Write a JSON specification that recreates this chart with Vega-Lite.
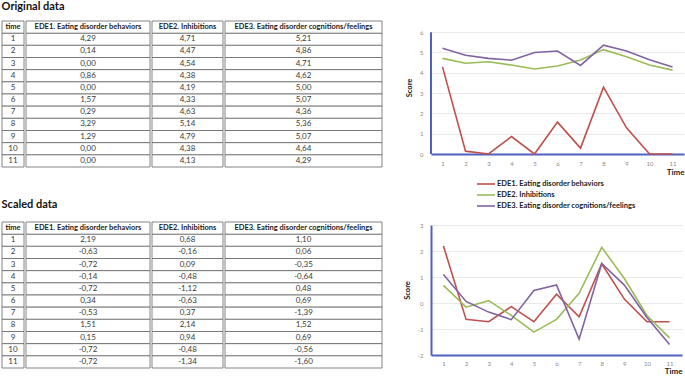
{
  "$schema": "https://vega.github.io/schema/vega-lite/v6.json",
  "padding": {"left": 1, "top": 0, "right": 2, "bottom": 0},
  "background": "#ffffff",
  "datasets": {
    "orig": [
      {"time": 1, "EDE1": 4.29, "EDE2": 4.71, "EDE3": 5.21},
      {"time": 2, "EDE1": 0.14, "EDE2": 4.47, "EDE3": 4.86},
      {"time": 3, "EDE1": 0.00, "EDE2": 4.54, "EDE3": 4.71},
      {"time": 4, "EDE1": 0.86, "EDE2": 4.38, "EDE3": 4.62},
      {"time": 5, "EDE1": 0.00, "EDE2": 4.19, "EDE3": 5.00},
      {"time": 6, "EDE1": 1.57, "EDE2": 4.33, "EDE3": 5.07},
      {"time": 7, "EDE1": 0.29, "EDE2": 4.63, "EDE3": 4.36},
      {"time": 8, "EDE1": 3.29, "EDE2": 5.14, "EDE3": 5.36},
      {"time": 9, "EDE1": 1.29, "EDE2": 4.79, "EDE3": 5.07},
      {"time": 10, "EDE1": 0.00, "EDE2": 4.38, "EDE3": 4.64},
      {"time": 11, "EDE1": 0.00, "EDE2": 4.13, "EDE3": 4.29}
    ],
    "scaled": [
      {"time": 1, "EDE1": 2.19, "EDE2": 0.68, "EDE3": 1.10},
      {"time": 2, "EDE1": -0.63, "EDE2": -0.16, "EDE3": 0.06},
      {"time": 3, "EDE1": -0.72, "EDE2": 0.09, "EDE3": -0.35},
      {"time": 4, "EDE1": -0.14, "EDE2": -0.48, "EDE3": -0.64},
      {"time": 5, "EDE1": -0.72, "EDE2": -1.12, "EDE3": 0.48},
      {"time": 6, "EDE1": 0.34, "EDE2": -0.63, "EDE3": 0.69},
      {"time": 7, "EDE1": -0.53, "EDE2": 0.37, "EDE3": -1.39},
      {"time": 8, "EDE1": 1.51, "EDE2": 2.14, "EDE3": 1.52},
      {"time": 9, "EDE1": 0.15, "EDE2": 0.94, "EDE3": 0.69},
      {"time": 10, "EDE1": -0.72, "EDE2": -0.48, "EDE3": -0.56},
      {"time": 11, "EDE1": -0.72, "EDE2": -1.34, "EDE3": -1.60}
    ]
  },
  "hconcat": [
    {
      "spacing": 30,
      "vconcat": [
        {
          "title": {"text": "Original data", "anchor": "start", "font": "Lato", "fontSize": 11, "fontWeight": "bold", "color": "#111", "offset": 9},
          "spacing": 0,
          "hconcat": [
            {"width": 22, "height": 146, "data": {"name": "orig"}, "layer": [
              {"mark": {"type": "rect", "fill": "#ffffff", "stroke": "#666666", "strokeWidth": 0.8}, "encoding": {"y": {"field": "time", "type": "ordinal", "scale": {"domain": [0,1,2,3,4,5,6,7,8,9,10,11], "paddingInner": 0, "paddingOuter": 0}, "axis": null}}},
              {"mark": {"type": "text", "font": "Lato", "fontSize": 8, "color": "#3a3a3a"}, "encoding": {"y": {"field": "time", "type": "ordinal"}, "text": {"field": "time", "type": "ordinal"}}},
              {"data": {"values": [{}]}, "mark": {"type": "rect", "fill": "#ffffff", "stroke": "#666666", "strokeWidth": 0.8}, "encoding": {"y": {"datum": 0, "type": "ordinal"}}},
              {"data": {"values": [{}]}, "mark": {"type": "text", "font": "Lato", "fontSize": 7.5, "fontWeight": "bold", "color": "#222", "text": "time"}, "encoding": {"y": {"datum": 0, "type": "ordinal"}}}
            ]},
            {"width": 124, "height": 146, "data": {"name": "orig"}, "layer": [
              {"mark": {"type": "rect", "fill": "#ffffff", "stroke": "#666666", "strokeWidth": 0.8}, "encoding": {"y": {"field": "time", "type": "ordinal", "scale": {"domain": [0,1,2,3,4,5,6,7,8,9,10,11], "paddingInner": 0, "paddingOuter": 0}, "axis": null}}},
              {"mark": {"type": "text", "font": "Lato", "fontSize": 8, "color": "#3a3a3a"}, "encoding": {"y": {"field": "time", "type": "ordinal"}, "text": {"field": "EDE1", "type": "quantitative", "format": ".2f"}}},
              {"data": {"values": [{}]}, "mark": {"type": "rect", "fill": "#ffffff", "stroke": "#666666", "strokeWidth": 0.8}, "encoding": {"y": {"datum": 0, "type": "ordinal"}}},
              {"data": {"values": [{}]}, "mark": {"type": "text", "font": "Lato", "fontSize": 7.5, "fontWeight": "bold", "color": "#222", "text": "EDE1. Eating disorder behaviors"}, "encoding": {"y": {"datum": 0, "type": "ordinal"}}}
            ]},
            {"width": 71, "height": 146, "data": {"name": "orig"}, "layer": [
              {"mark": {"type": "rect", "fill": "#ffffff", "stroke": "#666666", "strokeWidth": 0.8}, "encoding": {"y": {"field": "time", "type": "ordinal", "scale": {"domain": [0,1,2,3,4,5,6,7,8,9,10,11], "paddingInner": 0, "paddingOuter": 0}, "axis": null}}},
              {"mark": {"type": "text", "font": "Lato", "fontSize": 8, "color": "#3a3a3a"}, "encoding": {"y": {"field": "time", "type": "ordinal"}, "text": {"field": "EDE2", "type": "quantitative", "format": ".2f"}}},
              {"data": {"values": [{}]}, "mark": {"type": "rect", "fill": "#ffffff", "stroke": "#666666", "strokeWidth": 0.8}, "encoding": {"y": {"datum": 0, "type": "ordinal"}}},
              {"data": {"values": [{}]}, "mark": {"type": "text", "font": "Lato", "fontSize": 7.5, "fontWeight": "bold", "color": "#222", "text": "EDE2. Inhibitions"}, "encoding": {"y": {"datum": 0, "type": "ordinal"}}}
            ]},
            {"width": 157, "height": 146, "data": {"name": "orig"}, "layer": [
              {"mark": {"type": "rect", "fill": "#ffffff", "stroke": "#666666", "strokeWidth": 0.8}, "encoding": {"y": {"field": "time", "type": "ordinal", "scale": {"domain": [0,1,2,3,4,5,6,7,8,9,10,11], "paddingInner": 0, "paddingOuter": 0}, "axis": null}}},
              {"mark": {"type": "text", "font": "Lato", "fontSize": 8, "color": "#3a3a3a"}, "encoding": {"y": {"field": "time", "type": "ordinal"}, "text": {"field": "EDE3", "type": "quantitative", "format": ".2f"}}},
              {"data": {"values": [{}]}, "mark": {"type": "rect", "fill": "#ffffff", "stroke": "#666666", "strokeWidth": 0.8}, "encoding": {"y": {"datum": 0, "type": "ordinal"}}},
              {"data": {"values": [{}]}, "mark": {"type": "text", "font": "Lato", "fontSize": 7.5, "fontWeight": "bold", "color": "#222", "text": "EDE3. Eating disorder cognitions/feelings"}, "encoding": {"y": {"datum": 0, "type": "ordinal"}}}
            ]}
          ]
        },
        {
          "title": {"text": "Scaled data", "anchor": "start", "font": "Lato", "fontSize": 11, "fontWeight": "bold", "color": "#111", "offset": 12},
          "spacing": 0,
          "hconcat": [
            {"width": 22, "height": 146, "data": {"name": "scaled"}, "layer": [
              {"mark": {"type": "rect", "fill": "#ffffff", "stroke": "#666666", "strokeWidth": 0.8}, "encoding": {"y": {"field": "time", "type": "ordinal", "scale": {"domain": [0,1,2,3,4,5,6,7,8,9,10,11], "paddingInner": 0, "paddingOuter": 0}, "axis": null}}},
              {"mark": {"type": "text", "font": "Lato", "fontSize": 8, "color": "#3a3a3a"}, "encoding": {"y": {"field": "time", "type": "ordinal"}, "text": {"field": "time", "type": "ordinal"}}},
              {"data": {"values": [{}]}, "mark": {"type": "rect", "fill": "#ffffff", "stroke": "#666666", "strokeWidth": 0.8}, "encoding": {"y": {"datum": 0, "type": "ordinal"}}},
              {"data": {"values": [{}]}, "mark": {"type": "text", "font": "Lato", "fontSize": 7.5, "fontWeight": "bold", "color": "#222", "text": "time"}, "encoding": {"y": {"datum": 0, "type": "ordinal"}}}
            ]},
            {"width": 124, "height": 146, "data": {"name": "scaled"}, "layer": [
              {"mark": {"type": "rect", "fill": "#ffffff", "stroke": "#666666", "strokeWidth": 0.8}, "encoding": {"y": {"field": "time", "type": "ordinal", "scale": {"domain": [0,1,2,3,4,5,6,7,8,9,10,11], "paddingInner": 0, "paddingOuter": 0}, "axis": null}}},
              {"mark": {"type": "text", "font": "Lato", "fontSize": 8, "color": "#3a3a3a"}, "encoding": {"y": {"field": "time", "type": "ordinal"}, "text": {"field": "EDE1", "type": "quantitative", "format": ".2f"}}},
              {"data": {"values": [{}]}, "mark": {"type": "rect", "fill": "#ffffff", "stroke": "#666666", "strokeWidth": 0.8}, "encoding": {"y": {"datum": 0, "type": "ordinal"}}},
              {"data": {"values": [{}]}, "mark": {"type": "text", "font": "Lato", "fontSize": 7.5, "fontWeight": "bold", "color": "#222", "text": "EDE1. Eating disorder behaviors"}, "encoding": {"y": {"datum": 0, "type": "ordinal"}}}
            ]},
            {"width": 71, "height": 146, "data": {"name": "scaled"}, "layer": [
              {"mark": {"type": "rect", "fill": "#ffffff", "stroke": "#666666", "strokeWidth": 0.8}, "encoding": {"y": {"field": "time", "type": "ordinal", "scale": {"domain": [0,1,2,3,4,5,6,7,8,9,10,11], "paddingInner": 0, "paddingOuter": 0}, "axis": null}}},
              {"mark": {"type": "text", "font": "Lato", "fontSize": 8, "color": "#3a3a3a"}, "encoding": {"y": {"field": "time", "type": "ordinal"}, "text": {"field": "EDE2", "type": "quantitative", "format": ".2f"}}},
              {"data": {"values": [{}]}, "mark": {"type": "rect", "fill": "#ffffff", "stroke": "#666666", "strokeWidth": 0.8}, "encoding": {"y": {"datum": 0, "type": "ordinal"}}},
              {"data": {"values": [{}]}, "mark": {"type": "text", "font": "Lato", "fontSize": 7.5, "fontWeight": "bold", "color": "#222", "text": "EDE2. Inhibitions"}, "encoding": {"y": {"datum": 0, "type": "ordinal"}}}
            ]},
            {"width": 157, "height": 146, "data": {"name": "scaled"}, "layer": [
              {"mark": {"type": "rect", "fill": "#ffffff", "stroke": "#666666", "strokeWidth": 0.8}, "encoding": {"y": {"field": "time", "type": "ordinal", "scale": {"domain": [0,1,2,3,4,5,6,7,8,9,10,11], "paddingInner": 0, "paddingOuter": 0}, "axis": null}}},
              {"mark": {"type": "text", "font": "Lato", "fontSize": 8, "color": "#3a3a3a"}, "encoding": {"y": {"field": "time", "type": "ordinal"}, "text": {"field": "EDE3", "type": "quantitative", "format": ".2f"}}},
              {"data": {"values": [{}]}, "mark": {"type": "rect", "fill": "#ffffff", "stroke": "#666666", "strokeWidth": 0.8}, "encoding": {"y": {"datum": 0, "type": "ordinal"}}},
              {"data": {"values": [{}]}, "mark": {"type": "text", "font": "Lato", "fontSize": 7.5, "fontWeight": "bold", "color": "#222", "text": "EDE3. Eating disorder cognitions/feelings"}, "encoding": {"y": {"datum": 0, "type": "ordinal"}}}
            ]}
          ]
        }
      ]
    },
    {
      "spacing": 12,
      "resolve": {"legend": {"color": "independent"}},
      "vconcat": [
        {
          "width": 253, "height": 133,
          "layer": [
            {
              "data": {"name": "orig"},
              "transform": [{"fold": ["EDE1", "EDE2", "EDE3"], "as": ["series", "score"]}],
              "mark": {"type": "line", "strokeWidth": 1.6},
              "encoding": {
                "x": {"field": "time", "type": "quantitative", "scale": {"domain": [0.5, 11.5], "nice": false, "zero": false}, "axis": {"values": [1,2,3,4,5,6,7,8,9,10,11], "format": "d", "labelOverlap": false, "labelFlush": false, "labelAngle": 0, "grid": false, "title": "Time", "titleAnchor": "end", "titleFontSize": 8, "labelPadding": 6, "titlePadding": 2}},
                "y": {"field": "score", "type": "quantitative", "scale": {"domain": [0, 6.55], "nice": false, "zero": false}, "axis": {"values": [0, 1, 2, 3, 4, 5, 6], "format": "d", "labelOverlap": false, "labelFlush": false, "domain": false, "title": "Score", "labelPadding": 8, "titlePadding": 6}},
                "color": {"field": "series", "type": "nominal", "scale": {"domain": ["EDE1", "EDE2", "EDE3"], "range": ["#c0504d", "#9bbb59", "#8064a2"]},
                  "legend": {"title": null, "orient": "bottom", "direction": "vertical", "offset": 1, "symbolType": "M-1.5,0H1.5", "symbolSize": 144, "symbolStrokeWidth": 1.6, "labelFont": "Lato", "labelFontSize": 7.5, "labelFontWeight": "bold", "labelColor": "#222", "rowPadding": 0,
                    "labelExpr": "datum.label == 'EDE1' ? 'EDE1. Eating disorder behaviors' : datum.label == 'EDE2' ? 'EDE2. Inhibitions' : 'EDE3. Eating disorder cognitions/feelings'"}}
              }
            },
            {
              "data": {"values": [{}]},
              "mark": {"type": "rule", "color": "#5060c0", "strokeWidth": 2},
              "encoding": {
                "x": {"datum": 0.5, "type": "quantitative", "axis": {"values": [1,2,3,4,5,6,7,8,9,10,11], "format": "d", "labelOverlap": false, "labelFlush": false, "labelAngle": 0, "grid": false, "title": "Time", "titleAnchor": "end", "titleFontSize": 8, "labelPadding": 6, "titlePadding": 2}},
                "y": {"datum": 0, "type": "quantitative", "axis": {"values": [0, 1, 2, 3, 4, 5, 6], "format": "d", "labelOverlap": false, "labelFlush": false, "domain": false, "title": "Score", "labelPadding": 8, "titlePadding": 6}},
                "y2": {"datum": 6}
              }
            }
          ]
        },
        {
          "width": 251, "height": 130,
          "data": {"name": "scaled"},
          "transform": [{"fold": ["EDE1", "EDE2", "EDE3"], "as": ["series", "score"]}],
          "mark": {"type": "line", "strokeWidth": 1.6},
          "encoding": {
            "x": {"field": "time", "type": "ordinal", "scale": {"type": "point", "padding": 0.55}, "axis": {"labelAngle": 0, "grid": false, "title": "Time", "titleAnchor": "end", "titleFontSize": 8, "labelPadding": 5, "titlePadding": 1}},
            "y": {"field": "score", "type": "quantitative", "scale": {"domain": [-2, 3], "nice": false}, "axis": {"values": [-2, -1, 0, 1, 2, 3], "title": "Score", "labelPadding": 8, "titlePadding": 6}},
            "color": {"field": "series", "type": "nominal", "scale": {"domain": ["EDE1", "EDE2", "EDE3"], "range": ["#c0504d", "#9bbb59", "#8064a2"]}, "legend": null}
          }
        }
      ]
    }
  ],
  "config": {
    "view": {"stroke": null},
    "font": "Lato",
    "locale": {"number": {"decimal": ",", "thousands": ".", "grouping": [3], "currency": ["", " €"], "minus": "-"}},
    "axis": {"labelColor": "#8a8a8a", "labelFontSize": 6, "labelFont": "Lato", "titleFont": "Lato", "titleFontSize": 7.5, "titleFontWeight": "bold", "titleColor": "#222", "ticks": false, "domainColor": "#5060c0", "domainWidth": 2, "gridColor": "#e3e3e3", "gridWidth": 0.8},
    "legend": {"layout": {"bottom": {"anchor": "middle"}}}
  }
}
